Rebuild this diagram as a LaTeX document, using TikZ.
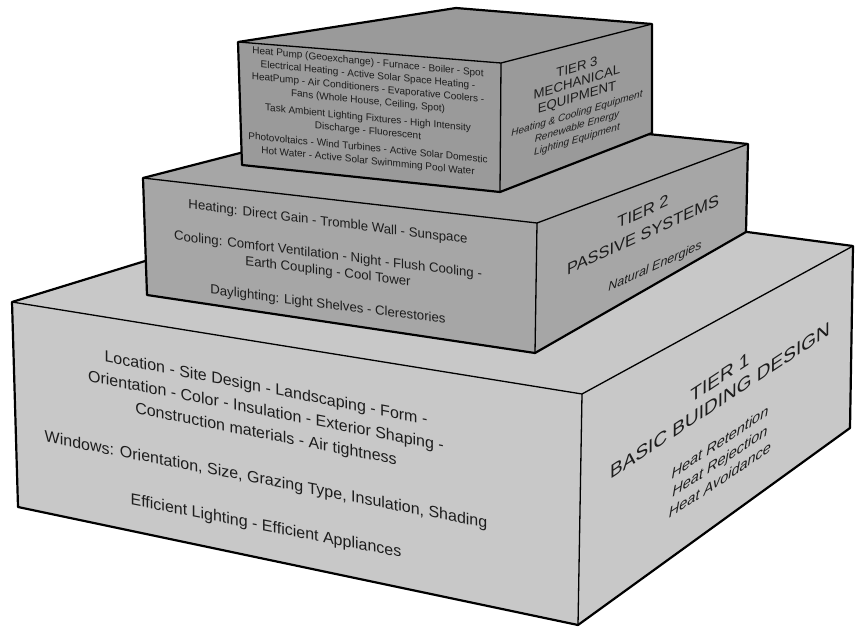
\documentclass[tikz,border=0pt]{standalone}
\usepackage{fontspec}
\setmainfont{Liberation Sans}
\definecolor{tierone}{RGB}{200,200,200}
\definecolor{tiertwo}{RGB}{166,166,166}
\definecolor{tierthree}{RGB}{154,154,154}
\definecolor{inkgray}{RGB}{28,28,28}
\begin{document}
\begin{tikzpicture}[x=1pt,y=-1pt,
	tierface/.style={draw=black,line width=1.3pt,line join=round},
	boxedge/.style={draw=black,line width=2.2pt,line join=round},
	facetext/.style={text=inkgray,align=center,inner sep=0pt,transform shape}]
	\useasboundingbox (0,0) rectangle (858,628);
	
	% tier 1 - basic building design
	\fill[tierone] (12,302) -- (392,185) -- (853,246) -- (850,428)
	-- (578,625) -- (18,507) -- cycle;
	\draw[tierface] (12,302) -- (582,394) -- (853,246);
	\draw[tierface] (582,394) -- (578,625);
	\draw[boxedge] (12,302) -- (392,185) -- (853,246) -- (850,428)
	-- (578,625) -- (18,507) -- cycle;
	
	% tier 2 - passive systems
	\fill[tiertwo] (143,178) -- (407,110) -- (748,144) -- (746,232)
	-- (535,353) -- (147,295) -- cycle;
	\draw[tierface] (143,178) -- (537,223) -- (748,144);
	\draw[tierface] (537,223) -- (535,353);
	\draw[boxedge] (143,178) -- (407,110) -- (748,144) -- (746,232)
	-- (535,353) -- (147,295) -- cycle;
	
	% tier 3 - mechanical equipment
	\fill[tierthree] (238,42) -- (456,8) -- (652,24) -- (652,133)
	-- (500,192) -- (242,165) -- cycle;
	\draw[tierface] (238,42) -- (501,63) -- (652,24);
	\draw[tierface] (501,63) -- (500,192);
	\draw[boxedge] (238,42) -- (456,8) -- (652,24) -- (652,133)
	-- (500,192) -- (242,165) -- cycle;
	
	% front faces
	\node[facetext,yslant=-0.195,font=\fontsize{16}{23}\selectfont] (t1front) at (266,458)
	{Location - Site Design - Landscaping - Form -\\
		Orientation - Color - Insulation - Exterior Shaping -\\
		Construction materials - Air tightness\\[23pt]
		Windows: Orientation, Size, Grazing Type, Insulation, Shading\\[23pt]
		Efficient Lighting - Efficient Appliances};
	\node[facetext,yslant=-0.125,font=\fontsize{13.2}{16.5}\selectfont] (t2front) at (328,264)
	{Heating: Direct Gain - Tromble Wall - Sunspace\\[16.5pt]
		Cooling: Comfort Ventilation - Night - Flush Cooling -\\
		Earth Coupling - Cool Tower\\[16.5pt]
		Daylighting: Light Shelves - Clerestories};
	\node[facetext,yslant=-0.1,font=\fontsize{10}{13}\selectfont] (t3front) at (368,112)
	{Heat Pump (Geoexchange) - Furnace - Boiler - Spot\\
		Electrical Heating - Active Solar Space Heating -\\
		HeatPump - Air Conditioners - Evaporative Coolers -\\
		Fans (Whole House, Ceiling, Spot)\\[4pt]
		Task Ambient Lighting Fixtures - High Intensity\\
		Discharge - Fluorescent\\[4pt]
		Photovoltaics - Wind Turbines - Active Solar Domestic\\
		Hot Water - Active Solar Swinmming Pool Water};
	
	% right faces
	\node[facetext,yslant=0.66,font=\fontsize{19}{23}\selectfont] (t1head) at (720,389)
	{TIER 1\\BASIC BUIDING DESIGN};
	\node[facetext,yslant=0.66,font=\fontsize{14.5}{19}\selectfont\itshape] (t1sub) at (720,461)
	{Heat Retention\\Heat Rejection\\Heat Avoidance};
	\node[facetext,yslant=0.46,font=\fontsize{16.4}{23}\selectfont] (t2head) at (643,223)
	{TIER 2\\PASSIVE SYSTEMS};
	\node[facetext,yslant=0.46,font=\fontsize{12.5}{15}\selectfont\itshape] (t2sub) at (655,267)
	{Natural Energies};
	\node[facetext,yslant=0.3,font=\fontsize{13.2}{15}\selectfont] (t3head) at (577,83)
	{TIER 3\\MECHANICAL\\EQUIPMENT};
	\node[facetext,yslant=0.3,font=\fontsize{10}{13}\selectfont\itshape] (t3sub) at (577,127)
	{Heating \& Cooling Equipment\\Renewable Energy\\Lighting Equipment};
\end{tikzpicture}
\end{document}
